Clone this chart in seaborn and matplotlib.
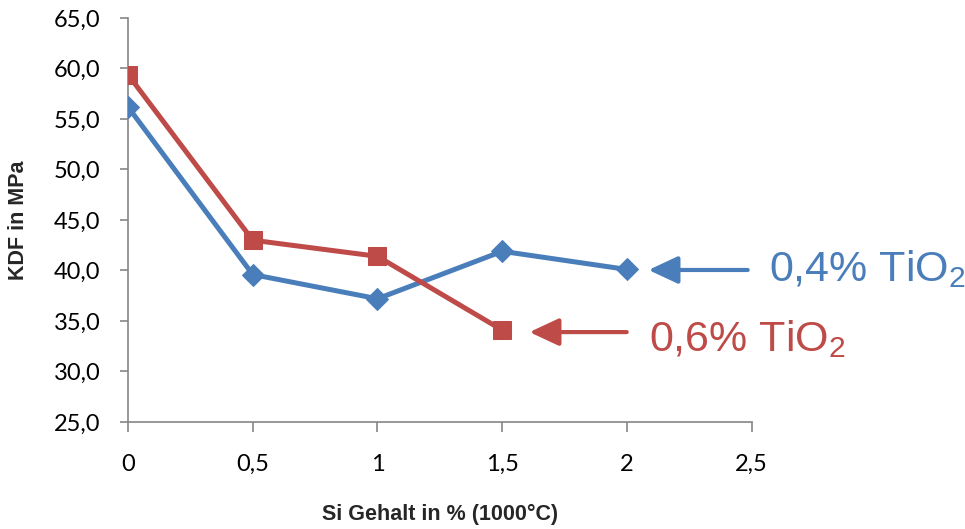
import matplotlib
matplotlib.use("Agg")
import matplotlib.pyplot as plt
import seaborn as sns
import pandas as pd

x_blue = [0, 0.5, 1, 1.5, 2]
y_blue = [56.2, 39.6, 37.2, 41.9, 40.1]
x_red = [0, 0.5, 1, 1.5]
y_red = [59.4, 43.0, 41.4, 34.1]
label_blue = "0,4% TiO$_2$"
label_red = "0,6% TiO$_2$"
x_ticks = [0, 0.5, 1, 1.5, 2, 2.5]
x_ticklabels = ["0", "0,5", "1", "1,5", "2", "2,5"]
y_ticks = [25, 30, 35, 40, 45, 50, 55, 60, 65]
y_ticklabels = ["25,0", "30,0", "35,0", "40,0", "45,0", "50,0", "55,0", "60,0", "65,0"]

sns.set_theme(style="white")
plt.rcParams["font.family"] = ["Lato", "DejaVu Sans"]
plt.rcParams["mathtext.fontset"] = "custom"
plt.rcParams["mathtext.rm"] = "Liberation Sans"
plt.rcParams["mathtext.it"] = "Liberation Sans"

BLUE = "#4A7EBB"
RED = "#BE4B48"
GRAY = "#868686"

fig = plt.figure(figsize=(9.65, 5.29), dpi=100)
ax = fig.add_axes([0.1326, 0.2023, 0.779 - 0.1326, 0.966 - 0.2023])

df_b = pd.DataFrame({"x": x_blue, "y": y_blue})
df_r = pd.DataFrame({"x": x_red, "y": y_red})
sns.lineplot(data=df_b, x="x", y="y", ax=ax, color=BLUE, lw=3.6, marker="D",
             markersize=11, markeredgecolor=BLUE, markerfacecolor=BLUE, zorder=3)
sns.lineplot(data=df_r, x="x", y="y", ax=ax, color=RED, lw=3.6, marker="s",
             markersize=13, markeredgecolor=RED, markerfacecolor=RED, zorder=3)

ax.set_xlim(0, 2.5)
ax.set_ylim(25, 65)
ax.set_xticks(x_ticks)
ax.set_xticklabels(x_ticklabels)
ax.set_yticks(y_ticks)
ax.set_yticklabels(y_ticklabels)
ax.tick_params(axis="x", direction="out", length=7, width=1.2, color=GRAY,
               labelsize=17, pad=16, bottom=True, labelcolor="black")
ax.tick_params(axis="y", direction="out", length=6, width=1.2, color=GRAY,
               labelsize=17, pad=14, left=True, labelcolor="black")
for s in ["top", "right"]:
    ax.spines[s].set_visible(False)
for s in ["left", "bottom"]:
    ax.spines[s].set_color(GRAY)
    ax.spines[s].set_linewidth(1.2)

lab_font = ["Liberation Sans", "DejaVu Sans"]
ax.set_xlabel("Si Gehalt in % (1000°C)", fontsize=15.5, fontweight="bold", family=lab_font, va="center")
ax.set_ylabel("KDF in MPa", fontsize=15.5, fontweight="bold", family=lab_font, va="center")
ax.xaxis.set_label_coords(0.5, -0.228)
ax.yaxis.set_label_coords(-0.176, 0.5)

ax.annotate("", xy=(2.075, 40.05), xytext=(2.495, 40.05), xycoords="data",
            arrowprops=dict(arrowstyle="-|>,head_length=1.5,head_width=0.7",
                            color=BLUE, lw=3), annotation_clip=False)
ax.annotate("", xy=(1.598, 33.9), xytext=(2.01, 33.9), xycoords="data",
            arrowprops=dict(arrowstyle="-|>,head_length=1.5,head_width=0.7",
                            color=RED, lw=3), annotation_clip=False)
ax.text(2.57, 40.1, label_blue, color=BLUE, fontsize=31, va="center", ha="left", clip_on=False,
        family=lab_font)
ax.text(2.09, 33.2, label_red, color=RED, fontsize=31, va="center", ha="left", clip_on=False,
        family=lab_font)

fig.savefig("out.png", dpi=100)
